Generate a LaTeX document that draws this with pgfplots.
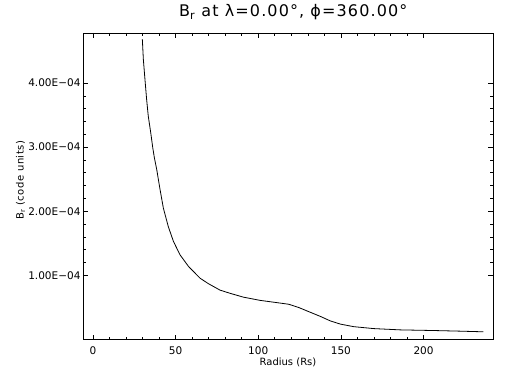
\documentclass[border=0pt]{standalone}
\usepackage{pgfplots}
\pgfplotsset{compat=1.18}
\usepackage{fontspec}
\setmainfont{DejaVu Sans}
\begin{document}
\begin{tikzpicture}[x=1pt,y=1pt]
\path[use as bounding box, fill=white] (0,0) rectangle (512,384);
\begin{axis}[
 at={(83pt,44.5pt)}, anchor=south west,
 scale only axis, width=410pt, height=306.5pt,
 xmin=-6, xmax=242, ymin=0, ymax=4.78e-4,
 xtick={0,50,100,150,200}, minor x tick num=4,
 ytick={1e-4,2e-4,3e-4,4e-4},
 yticklabels={1.00E−04,2.00E−04,3.00E−04,4.00E−04},
 minor y tick num=4,
 scaled y ticks=false,
 tick align=inside, major tick length=5pt, minor tick length=3pt,
 tick style={black, line width=0.6pt},
 axis line style={line width=0.8pt},
 ticklabel style={font=\fontsize{10.5}{12}\selectfont},
 /pgf/number format/assume math mode=true,
 xticklabel style={yshift=-4pt},
 yticklabel style={xshift=1pt},
 title={B\textsubscript{r} at λ=0.00°, ϕ=360.00°},
 title style={font=\fontsize{16}{18}\selectfont\addfontfeatures{LetterSpace=7}, inner sep=0pt, at={(axis description cs:0.2341,1)}, anchor=base west, yshift=10pt},
 xlabel={Radius (Rs)},
 xlabel style={font=\fontsize{10}{12}\selectfont, at={(axis description cs:0.5,0)}, anchor=base, yshift=-25.5pt},
 ylabel={B\textsubscript{r} (code units)},
 ylabel style={font=\fontsize{10}{12}\selectfont\addfontfeatures{LetterSpace=5}, at={(axis description cs:-0.152,0.52)}, anchor=center},
]
\addplot[black, line width=0.8pt, sharp plot, no marks] coordinates {
(29.9,4.68e-4)
(30.5,4.37e-4)
(31.5,4.05e-4)
(32.5,3.74e-4)
(33.5,3.48e-4)
(35.0,3.22e-4)
(36.2,2.99e-4)
(37.2,2.83e-4)
(38.6,2.65e-4)
(40.6,2.34e-4)
(42.6,2.05e-4)
(45.6,1.76e-4)
(48.7,1.53e-4)
(52.7,1.32e-4)
(57.8,1.14e-4)
(64.8,0.956e-4)
(69.9,0.87e-4)
(76.9,0.77e-4)
(83,0.72e-4)
(91.1,0.66e-4)
(101.2,0.61e-4)
(111.3,0.575e-4)
(118.4,0.55e-4)
(124.4,0.50e-4)
(130.5,0.435e-4)
(137.6,0.36e-4)
(143.6,0.29e-4)
(149.7,0.24e-4)
(157.8,0.20e-4)
(169.9,0.17e-4)
(186,0.15e-4)
(206.2,0.14e-4)
(222.4,0.13e-4)
(236.2,0.12e-4)
};
\end{axis}
\end{tikzpicture}
\end{document}
